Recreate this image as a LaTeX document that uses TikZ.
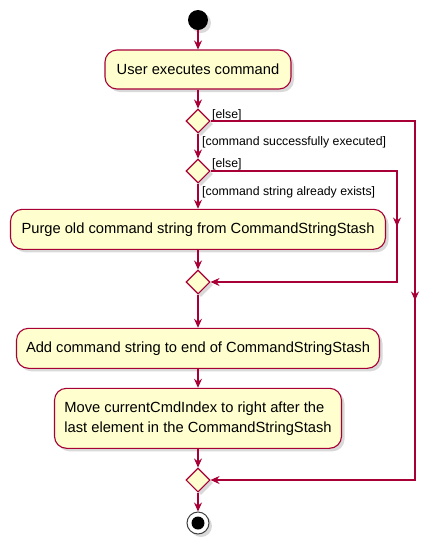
\documentclass[tikz,border=0pt]{standalone}
\usepackage{fontspec}
\setmainfont{Liberation Sans}
\usetikzlibrary{shapes.geometric,shadows,arrows.meta,decorations.markings}
\definecolor{ActLine}{HTML}{A80036}
\definecolor{ActFill}{HTML}{FEFECE}

\begin{document}
\begin{tikzpicture}[x=1pt,y=-1pt,
  umlshadow/.style={drop shadow={shadow xshift=3pt,shadow yshift=-3pt,opacity=0.3}},
  actbox/.style={draw=ActLine,fill=ActFill,line width=1.1pt,rounded corners=12pt,inner sep=0pt,
    font=\fontsize{14.7}{20}\selectfont,umlshadow},
  branch/.style={diamond,draw=ActLine,fill=ActFill,line width=1.1pt,minimum width=24pt,
    minimum height=24pt,inner sep=0pt,umlshadow},
  guard/.style={font=\fontsize{12.3}{14}\selectfont,inner sep=0pt,anchor=west},
  flow/.style={color=ActLine,line width=1.1pt,-{Stealth[length=9pt,width=8pt,inset=3pt]}},
  midflow/.style={flow,postaction={decorate},decoration={markings,
    mark=at position 0.5 with {\arrow{Stealth[length=9pt,width=8pt,inset=3pt]}}}}]
\path[use as bounding box] (0,0) rectangle (439,550);
% start and first activity
\node[circle,fill=black,minimum size=20pt,inner sep=0pt,umlshadow] (start) at (198,20) {};
\node[actbox,minimum width=186pt,minimum height=39pt] (userCmd) at (198,69.5) {User executes command};
% decisions
\node[branch] (execOk) at (198,121) {};
\node[branch] (strExists) at (198,171) {};
\node[guard] (elseOuter) at (212,115) {[else]};
\node[guard] (okGuard) at (202,142.7) {[command successfully executed]};
\node[guard] (elseInner) at (212,164) {[else]};
\node[guard] (existsGuard) at (202,192.7) {[command string already exists]};
% activities
\node[actbox,minimum width=375pt,minimum height=40pt] (purge) at (198,229.3) {Purge old command string from CommandStringStash};
\node[branch] (mergeInner) at (198,282) {};
\node[actbox,minimum width=363pt,minimum height=40pt] (addCmd) at (198,348.3) {Add command string to end of CommandStringStash};
\node[actbox,minimum width=287pt,minimum height=60pt,align=left] (moveIdx) at (198,418.3) {Move currentCmdIndex to right after the\\last element in the CommandStringStash};
\node[branch] (mergeOuter) at (198,480) {};
% end
\node[circle,draw=black!75,fill=white,line width=1pt,minimum size=22pt,inner sep=0pt,umlshadow] (stop) at (198,523) {};
\node[circle,fill=black,minimum size=13pt,inner sep=0pt] (stopDot) at (stop.center) {};
\coordinate (innerCorner) at (397,282);
\coordinate (outerCorner) at (415,480);
% flows
\draw[flow] (start) -- (userCmd);
\draw[flow] (userCmd) -- (execOk);
\draw[flow] (execOk) -- (strExists);
\draw[flow] (strExists) -- (purge);
\draw[flow] (purge) -- (mergeInner);
\draw[flow] (mergeInner) -- (addCmd);
\draw[flow] (addCmd) -- (moveIdx);
\draw[flow] (moveIdx) -- (mergeOuter);
\draw[flow] (mergeOuter) -- (stop);
\draw[midflow] (strExists.east) -| (innerCorner) -- (mergeInner.east);
\draw[midflow] (execOk.east) -| (outerCorner) -- (mergeOuter.east);
\end{tikzpicture}
\end{document}
